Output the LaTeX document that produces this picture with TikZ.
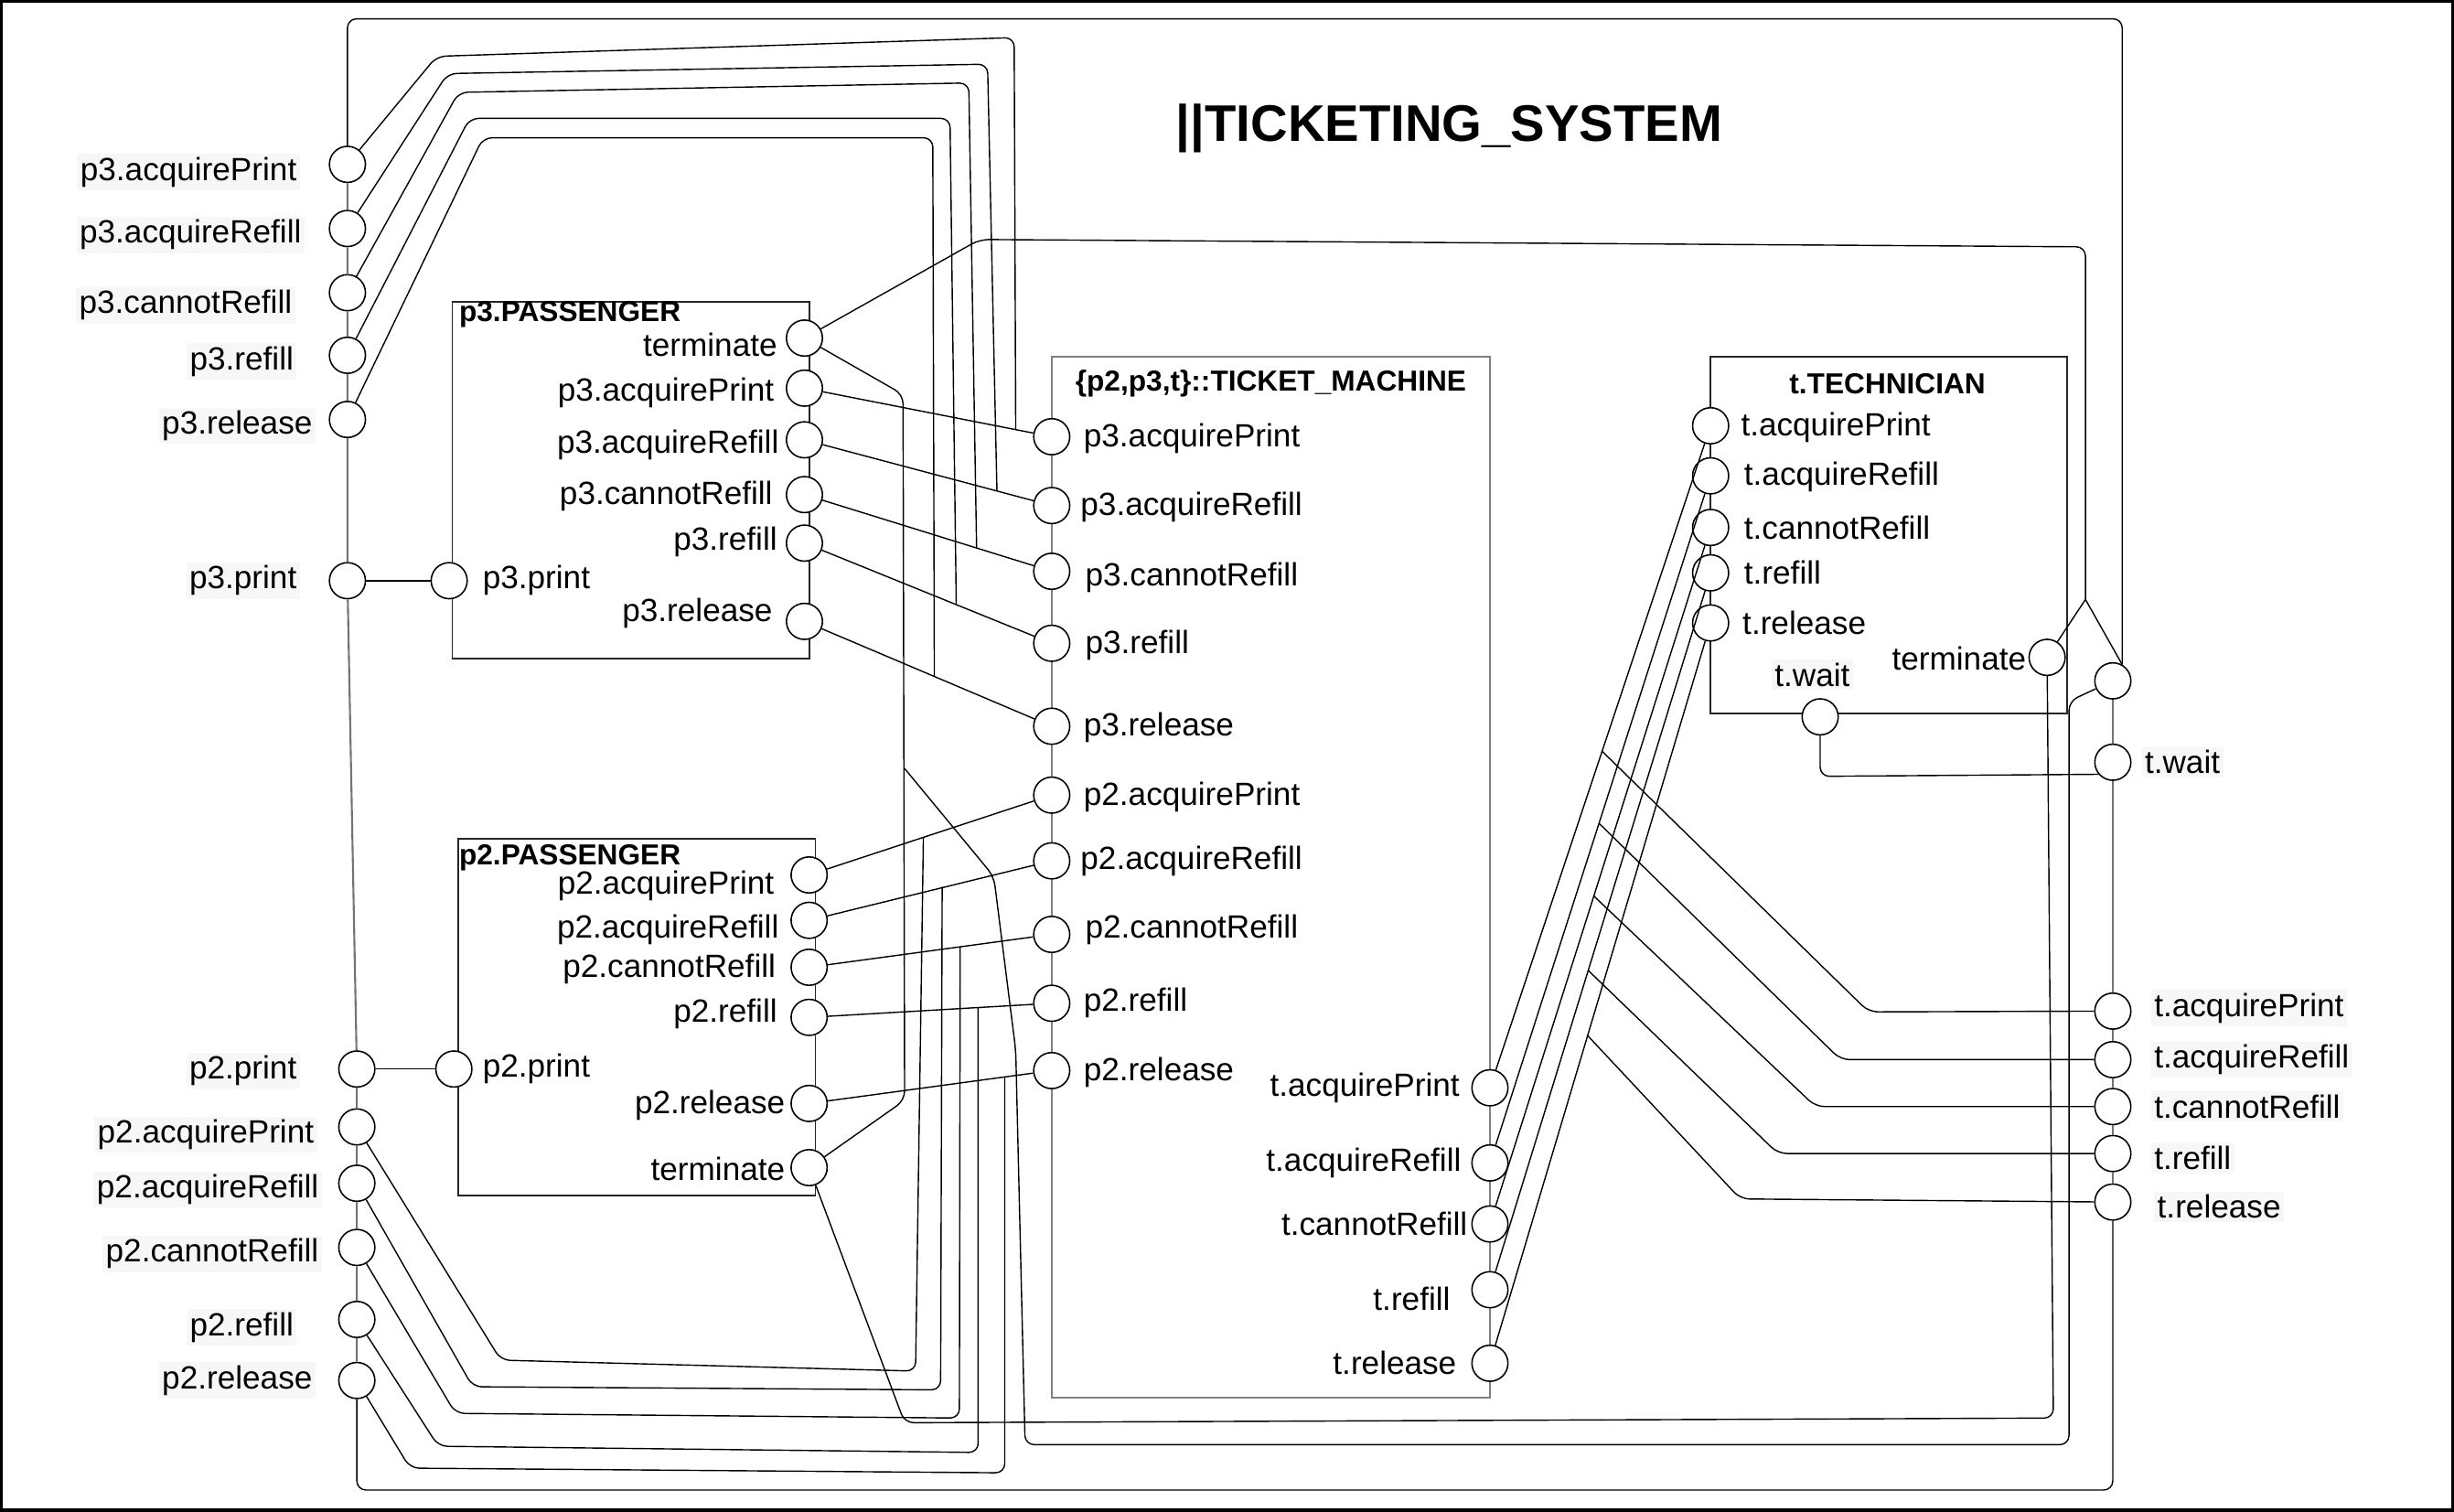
\documentclass[tikz,border=0pt]{standalone}
\usepackage{fontspec}
\setmainfont{Liberation Sans}
\begin{document}
\begin{tikzpicture}[x=0.01711cm, y=-0.01711cm,
  port/.style={circle, draw=black, fill=white, minimum size=0.394cm, inner sep=0pt, line width=0.45pt},
  lbl/.style={font=\fontsize{10}{12}\selectfont, inner sep=0.5pt},
  olbl/.style={lbl, fill=black!3, inner sep=1pt},
  ttl/.style={font=\fontsize{9}{11}\selectfont\bfseries, inner sep=0pt},
  wire/.style={draw=black, line width=0.4pt, rounded corners=1mm},
  chain/.style={draw=black!55, line width=0.6pt},
  pbox/.style={draw=black!85, line width=0.55pt},
  tmbox/.style={draw=black!50, line width=0.65pt}]
\useasboundingbox (0,0) rectangle (1568,966);
\draw[line width=1pt] (1,1) rectangle (1567,965);

% boxes
\draw[pbox] (289,193) rectangle (517,421);
\draw[pbox] (293,536) rectangle (521,764);
\draw[tmbox] (672,228) rectangle (952,893);
\draw[pbox] (1093,228) rectangle (1321,456);

% titles
\node[font=\fontsize{16}{19}\selectfont\bfseries, inner sep=0pt] (title) at (926,82) {||TICKETING\_SYSTEM};
\node[ttl, anchor=west] (t3p) at (293,201) {p3.PASSENGER};
\node[ttl, anchor=west] (t2p) at (293,548) {p2.PASSENGER};
\node[ttl] (ttm) at (812,245) {\{p2,p3,t\}::TICKET\_MACHINE};
\node[ttl] (tte) at (1206,245) {t.TECHNICIAN};

% outer left ports
\node[port] (Lap3) at (222,105) {};
\node[port] (Lar3) at (222,146) {};
\node[port] (Lcr3) at (222,187) {};
\node[port] (Lrf3) at (222,227) {};
\node[port] (Lrl3) at (222,268) {};
\node[port] (Lpr3) at (222,371) {};
\node[port] (Lpr2) at (228,683) {};
\node[port] (Lap2) at (228,720) {};
\node[port] (Lar2) at (228,756) {};
\node[port] (Lcr2) at (228,797) {};
\node[port] (Lrf2) at (228,843) {};
\node[port] (Lrl2) at (228,882) {};

% p3 passenger ports
\node[port] (Pterm3) at (514,216) {};
\node[port] (Pap3) at (514,248) {};
\node[port] (Par3) at (514,281) {};
\node[port] (Pcr3) at (514,316) {};
\node[port] (Prf3) at (514,347) {};
\node[port] (Prl3) at (514,397) {};
\node[port] (Ppr3) at (287,371) {};

% p2 passenger ports
\node[port] (Pap2) at (517,559) {};
\node[port] (Par2) at (517,588) {};
\node[port] (Pcr2) at (517,618) {};
\node[port] (Prf2) at (517,650) {};
\node[port] (Prl2) at (517,705) {};
\node[port] (Pterm2) at (517,746) {};
\node[port] (Ppr2) at (290,683) {};

% ticket machine ports
\node[port] (Tap3) at (672,279) {};
\node[port] (Tar3) at (672,323) {};
\node[port] (Tcr3) at (672,365) {};
\node[port] (Trf3) at (672,411) {};
\node[port] (Trl3) at (672,464) {};
\node[port] (Tap2) at (672,508) {};
\node[port] (Tar2) at (672,550) {};
\node[port] (Tcr2) at (672,597) {};
\node[port] (Trf2) at (672,641) {};
\node[port] (Trl2) at (672,684) {};
\node[port] (Ttap) at (952,695) {};
\node[port] (Ttar) at (952,743) {};
\node[port] (Ttcr) at (952,782) {};
\node[port] (Ttrf) at (952,824) {};
\node[port] (Ttrl) at (952,871) {};

% technician ports
\node[port] (Hap) at (1093,272) {};
\node[port] (Har) at (1093,304) {};
\node[port] (Hcr) at (1093,337) {};
\node[port] (Hrf) at (1093,366) {};
\node[port] (Hrl) at (1093,398) {};
\node[port] (Hterm) at (1308,420) {};
\node[port] (Hwait) at (1163,458) {};

% outer right ports
\node[port] (Runl) at (1350,435) {};
\node[port] (Rwait) at (1350,487) {};
\node[port] (Rap) at (1350,646) {};
\node[port] (Rar) at (1350,677) {};
\node[port] (Rcr) at (1350,707) {};
\node[port] (Rrf) at (1350,737) {};
\node[port] (Rrl) at (1350,768) {};

% labels outer left
\node[olbl, anchor=east] (ol1) at (192,110) {p3.acquirePrint};
\node[olbl, anchor=east] (ol2) at (195,150) {p3.acquireRefill};
\node[olbl, anchor=east] (ol3) at (189,195) {p3.cannotRefill};
\node[olbl, anchor=east] (ol4) at (190,231) {p3.refill};
\node[olbl, anchor=east] (ol5) at (202,272) {p3.release};
\node[olbl, anchor=east] (ol6) at (192,371) {p3.print};
\node[olbl, anchor=east] (ol7) at (192,684) {p2.print};
\node[olbl, anchor=east] (ol8) at (203,725) {p2.acquirePrint};
\node[olbl, anchor=east] (ol9) at (206,760) {p2.acquireRefill};
\node[olbl, anchor=east] (ol10) at (206,801) {p2.cannotRefill};
\node[olbl, anchor=east] (ol11) at (190,848) {p2.refill};
\node[olbl, anchor=east] (ol12) at (202,882) {p2.release};

% labels p3 passenger
\node[lbl, anchor=east] (pl1) at (498,220) {terminate};
\node[lbl, anchor=east] (pl2) at (496,251) {p3.acquirePrint};
\node[lbl, anchor=east] (pl3) at (499,284) {p3.acquireRefill};
\node[lbl, anchor=east] (pl4) at (495,317) {p3.cannotRefill};
\node[lbl, anchor=east] (pl5) at (498,346) {p3.refill};
\node[lbl, anchor=east] (pl6) at (495,392) {p3.release};
\node[lbl, anchor=west] (pl7) at (307,371) {p3.print};

% labels p2 passenger
\node[lbl, anchor=east] (ql1) at (496,566) {p2.acquirePrint};
\node[lbl, anchor=east] (ql2) at (499,594) {p2.acquireRefill};
\node[lbl, anchor=east] (ql3) at (497,619) {p2.cannotRefill};
\node[lbl, anchor=east] (ql4) at (498,648) {p2.refill};
\node[lbl, anchor=east] (ql5) at (503,706) {p2.release};
\node[lbl, anchor=east] (ql6) at (503,747) {terminate};
\node[lbl, anchor=west] (ql7) at (307,683) {p2.print};

% labels ticket machine
\node[lbl, anchor=west] (tl1) at (691,280) {p3.acquirePrint};
\node[lbl, anchor=west] (tl2) at (689,324) {p3.acquireRefill};
\node[lbl, anchor=west] (tl3) at (692,369) {p3.cannotRefill};
\node[lbl, anchor=west] (tl4) at (692,412) {p3.refill};
\node[lbl, anchor=west] (tl5) at (691,465) {p3.release};
\node[lbl, anchor=west] (tl6) at (691,509) {p2.acquirePrint};
\node[lbl, anchor=west] (tl7) at (689,550) {p2.acquireRefill};
\node[lbl, anchor=west] (tl8) at (692,594) {p2.cannotRefill};
\node[lbl, anchor=west] (tl9) at (691,641) {p2.refill};
\node[lbl, anchor=west] (tl10) at (691,685) {p2.release};
\node[lbl, anchor=east] (tr1) at (934,695) {t.acquirePrint};
\node[lbl, anchor=east] (tr2) at (935,743) {t.acquireRefill};
\node[lbl, anchor=east] (tr3) at (939,782) {t.cannotRefill};
\node[lbl, anchor=east] (tr4) at (928,830) {t.refill};
\node[lbl, anchor=east] (tr5) at (932,871) {t.release};

% labels technician
\node[lbl, anchor=west] (hl1) at (1111,273) {t.acquirePrint};
\node[lbl, anchor=west] (hl2) at (1113,305) {t.acquireRefill};
\node[lbl, anchor=west] (hl3) at (1113,337) {t.cannotRefill};
\node[lbl, anchor=west] (hl4) at (1113,366) {t.refill};
\node[lbl, anchor=west] (hl5) at (1112,398) {t.release};
\node[lbl, anchor=east] (hl6) at (1296,421) {terminate};
\node[olbl] (hl7) at (1158,431) {t.wait};

% labels outer right
\node[olbl, anchor=west] (rl1) at (1368,487) {t.wait};
\node[olbl, anchor=west] (rl2) at (1374,644) {t.acquirePrint};
\node[olbl, anchor=west] (rl3) at (1374,677) {t.acquireRefill};
\node[olbl, anchor=west] (rl4) at (1374,707) {t.cannotRefill};
\node[olbl, anchor=west] (rl5) at (1374,740) {t.refill};
\node[olbl, anchor=west] (rl6) at (1376,771) {t.release};

% outer boundary chains
\draw[chain] (Lap3) -- (Lar3) -- (Lcr3) -- (Lrf3) -- (Lrl3) -- (Lpr3) -- (Lpr2) -- (Lap2) -- (Lar2) -- (Lcr2) -- (Lrf2) -- (Lrl2);
\draw[chain] (Rrl) -- (Rrf) -- (Rcr) -- (Rar) -- (Rap) -- (Rwait) -- (Runl);
\draw[wire] (Lap3) -- (222,12) -- (1356,12) -- (Runl.60);
\draw[wire] (Lrl2) -- (228,952) -- (1350,952) -- (Rrl);

% print links
\draw[wire] (Lpr3) -- (Ppr3);
\draw[wire] (Lpr2) -- (Ppr2);

% p3 direct links
\draw[wire] (Pap3) -- (Tap3);
\draw[wire] (Par3) -- (Tar3);
\draw[wire] (Pcr3) -- (Tcr3);
\draw[wire] (Prf3) -- (Trf3);
\draw[wire] (Prl3) -- (Trl3);
% p2 direct links
\draw[wire] (Pap2) -- (Tap2);
\draw[wire] (Par2) -- (Tar2);
\draw[wire] (Pcr2) -- (Tcr2);
\draw[wire] (Prf2) -- (Trf2);
\draw[wire] (Prl2) -- (Trl2);
% t direct links
\draw[wire] (Ttap) -- (Hap);
\draw[wire] (Ttar) -- (Har);
\draw[wire] (Ttcr) -- (Hcr);
\draw[wire] (Ttrf) -- (Hrf);
\draw[wire] (Ttrl) -- (Hrl);

% p3 outer nets
\draw[wire] (Lap3) -- (279,36) -- (648,24) -- (649,274.5);
\draw[wire] (Lar3) -- (286,47) -- (631,41) -- (637,313.7);
\draw[wire] (Lcr3) -- (293,59) -- (619,53) -- (624,350.1);
\draw[wire] (Lrf3) -- (300,75.6) -- (607,75.6) -- (611,386.3);
\draw[wire] (Lrl3) -- (308.6,88) -- (596,88) -- (597,432.2);

% p2 outer nets
\draw[wire] (Lap2) -- (320,869) -- (585,876) -- (590,535);
\draw[wire] (Lar2) -- (302,886) -- (601,888) -- (602,566.6);
\draw[wire] (Lcr2) -- (291,903) -- (613,906) -- (613.5,605);
\draw[wire] (Lrf2) -- (280,924) -- (625,928) -- (625,643.7);
\draw[wire] (Lrl2) -- (262,938) -- (642,941) -- (642,688);

% wait
\draw[wire] (Hwait) -- (1163,496) -- (Rwait.-140);

% terminate nets
\coordinate (V) at (1332.5,383);
\coordinate (J) at (578,491);
\draw[wire] (Pterm3) -- (626,153) -- (1332.5,157.7) -- (V);
\draw[wire] (V) -- (Runl.60);
\draw[wire] (Hterm) -- (V);
\draw[wire] (Pterm3) -- (577,252) -- (578,703) -- (Pterm2);
\draw[wire] (J) -- (635,560) -- (649,671) -- (655,923) -- (1322,923) -- (1322,448) -- (Runl);
\draw[wire] (Pterm2) -- (578,909) -- (1312,906) -- (Hterm);

% t outer nets
\coordinate (J1) at (1023.7,480);
\coordinate (J2) at (1021.7,526);
\coordinate (J3) at (1018.4,572.5);
\coordinate (J4) at (1014.8,620);
\coordinate (J5) at (1014.4,661.6);
\draw[wire] (J1) -- (1194,646.5) -- (Rap);
\draw[wire] (J2) -- (1176,677) -- (Rar);
\draw[wire] (J3) -- (1160,707) -- (Rcr);
\draw[wire] (J4) -- (1136,737) -- (Rrf);
\draw[wire] (J5) -- (1112,766) -- (Rrl);
\end{tikzpicture}
\end{document}
